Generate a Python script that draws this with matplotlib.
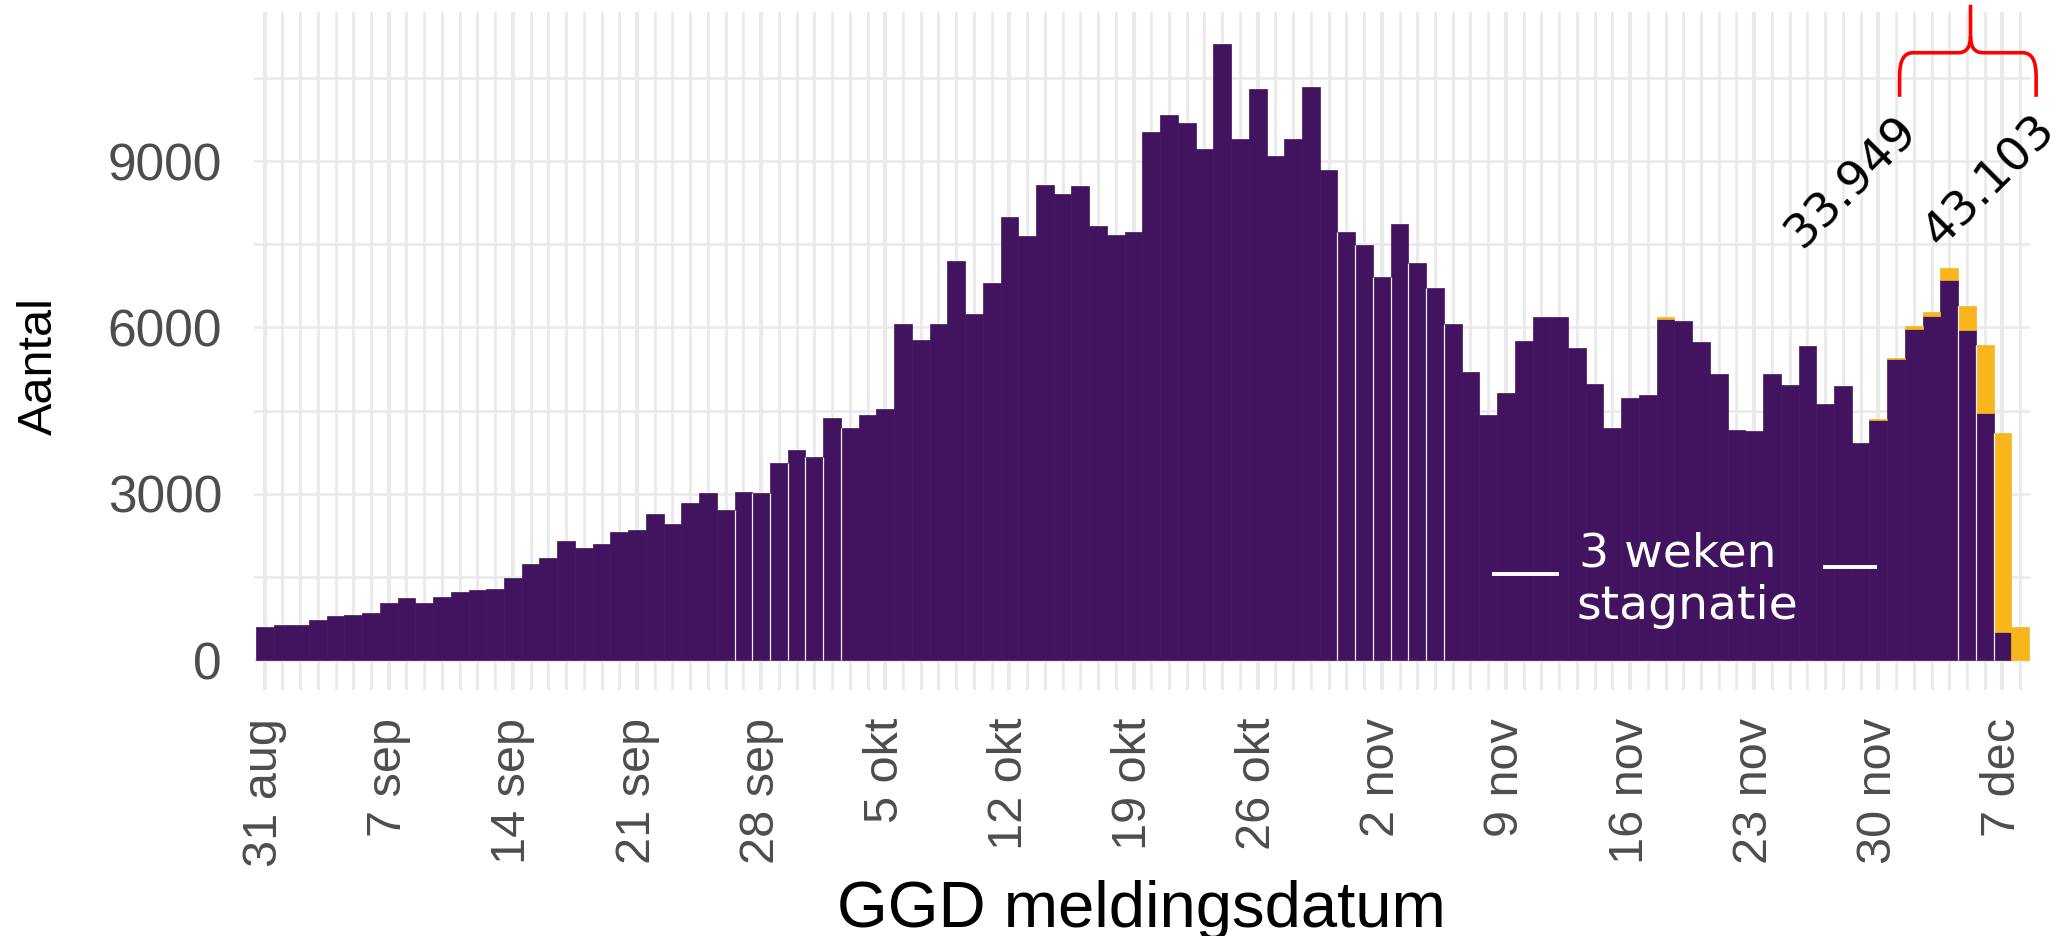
import numpy as np
import matplotlib
matplotlib.use("Agg")
import matplotlib.pyplot as plt
from matplotlib.path import Path
from matplotlib.patches import PathPatch

plt.rcParams['font.family'] = ['Liberation Sans', 'DejaVu Sans']

# GGD meldingen per dag, 31 aug t/m 8 dec
paars = [590, 625, 625, 720, 800, 820, 845, 1030, 1115, 1030,
         1140, 1225, 1265, 1290, 1485, 1740, 1835, 2150, 2015, 2095,
         2305, 2345, 2635, 2460, 2835, 3010, 2710, 3030, 3010, 3555,
         3790, 3670, 4375, 4195, 4415, 4530, 6055, 5780, 6055, 7205,
         6250, 6795, 7985, 7655, 8570, 8400, 8545, 7835, 7670, 7720,
         9530, 9830, 9690, 9220, 11110, 9400, 10295, 9100, 9400, 10345,
         8845, 7720, 7480, 6915, 7865, 7170, 6705, 6055, 5195, 4415,
         4820, 5760, 6190, 6190, 5625, 4985, 4180, 4725, 4790, 6155,
         6115, 5740, 5155, 4155, 4125, 5155, 4960, 5665, 4625, 4940,
         3920, 4330, 5430, 5975, 6210, 6855, 5955, 4450, 500, 0]
# nog na te komen meldingen (geel)
geel = [0] * 100
geel[79] = 25
geel[91] = 25
geel[92] = 25
geel[93] = 55
geel[94] = 70
geel[95] = 210
geel[96] = 430
geel[97] = 1225
geel[98] = 3600
geel[99] = 590

week_labels = ["31 aug", "7 sep", "14 sep", "21 sep", "28 sep", "5 okt",
               "12 okt", "19 okt", "26 okt", "2 nov", "9 nov", "16 nov",
               "23 nov", "30 nov", "7 dec"]
y_major = [0, 3000, 6000, 9000]
y_minor = [1500, 4500, 7500, 10500]
# witte naden tussen staven (na deze staven)
naden = list(range(26, 33)) + list(range(60, 67)) + [95, 96, 97]

PAARS = '#42145F'
GEEL = '#F9B51C'
GRID = '#EAEAEA'
GRIJS = '#4D4D4D'

paars = np.array(paars)
geel = np.array(geel)
totaal = paars + geel
x = np.arange(len(paars))

fig = plt.figure(figsize=(20.65, 9.36), dpi=100)
ax = fig.add_axes([0.123, 0.2628, 0.8601, 0.7244])

m = paars > 0
ax.bar(x[m], paars[m], width=1.0, color=PAARS, edgecolor=PAARS, linewidth=0.5, zorder=2)
m = geel > 0
ax.bar(x[m], geel[m], bottom=paars[m], width=1.0, color=GEEL, edgecolor=GEEL,
       linewidth=0.5, zorder=2)

for i in naden:
    ax.vlines(i + 0.5, 0, min(totaal[i], totaal[i + 1]), color='#F4EEF8', lw=0.9, zorder=3)

ax.set_xlim(-0.6, len(x) - 0.44)
ax.set_ylim(-540, 11690)

ax.set_xticks(np.arange(0, len(x), 7))
ax.set_xticklabels(week_labels)
ax.set_xticks(x, minor=True)
ax.set_yticks(y_major)
ax.set_yticklabels([str(v) for v in y_major])
ax.set_yticks(y_minor, minor=True)

ax.grid(which='major', axis='x', color=GRID, lw=3.0, zorder=0)
ax.grid(which='minor', axis='x', color=GRID, lw=2.0, zorder=0)
ax.grid(which='both', axis='y', color=GRID, lw=1.9, zorder=0)
ax.set_axisbelow(True)
for s in ax.spines.values():
    s.set_visible(False)
ax.tick_params(which='both', length=0)
ax.tick_params(axis='x', which='major', labelrotation=90, pad=20, labelsize=35, labelcolor=GRIJS)
ax.tick_params(axis='y', which='major', pad=23, labelsize=37, labelcolor=GRIJS)

fig.text(39 / 2065, 1 - 366 / 936, 'Aantal', rotation=90, ha='center', va='center',
         fontsize=35, color='black')
fig.text(1141 / 2065, 9 / 936, 'GGD meldingsdatum', ha='center', va='baseline',
         fontsize=47, color='black')

# annotatie stagnatie
ax.text(74.1, 1694, '3 weken', color='white', fontsize=34, family='DejaVu Sans',
        ha='left', va='baseline', zorder=4)
ax.text(74.0, 739, 'stagnatie', color='white', fontsize=34, family='DejaVu Sans',
        ha='left', va='baseline', zorder=4)
ax.plot([69.2, 73.0], [1550, 1550], color='white', lw=2.8, zorder=4, solid_capstyle='butt')
ax.plot([87.9, 90.9], [1676, 1676], color='white', lw=2.8, zorder=4, solid_capstyle='butt')

# weektotalen
ax.text(89.5, 8613, '33.949', rotation=45, rotation_mode='anchor', ha='center', va='center',
        fontsize=34, family='DejaVu Sans', color='black', zorder=4)
ax.text(97.3, 8631, '43.103', rotation=45, rotation_mode='anchor', ha='center', va='center',
        fontsize=34, family='DejaVu Sans', color='black', zorder=4)

# rode accolade
verts = [(92.2, 10160), (92.2, 10540), (92.2, 10955), (92.95, 10955), (95.5, 10955),
         (96.2, 10955), (96.2, 11250), (96.2, 11820),
         (99.9, 10160), (99.9, 10540), (99.9, 10955), (99.15, 10955), (96.9, 10955),
         (96.2, 10955), (96.2, 11250)]
codes = [Path.MOVETO, Path.LINETO, Path.CURVE3, Path.CURVE3, Path.LINETO,
         Path.CURVE3, Path.CURVE3, Path.LINETO,
         Path.MOVETO, Path.LINETO, Path.CURVE3, Path.CURVE3, Path.LINETO,
         Path.CURVE3, Path.CURVE3]
ax.add_patch(PathPatch(Path(verts, codes), facecolor='none', edgecolor='#FF0000', lw=2.6,
                       clip_on=False, zorder=5))

fig.savefig('out.png', dpi=100)
